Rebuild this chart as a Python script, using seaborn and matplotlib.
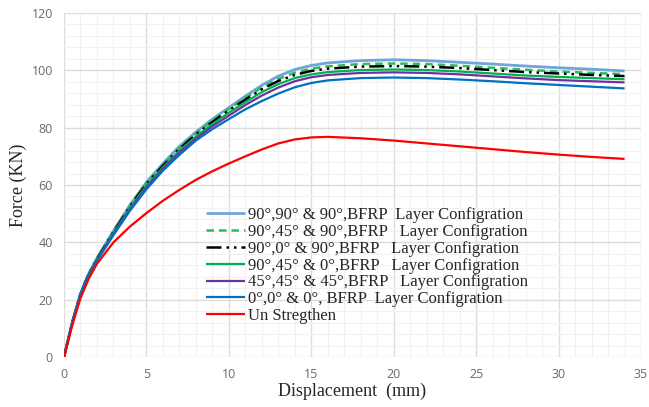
import numpy as np
import pandas as pd
import seaborn as sns
import matplotlib.pyplot as plt
from matplotlib.ticker import MultipleLocator

# displacement (mm)
disp = [0, 0.5, 1, 1.5, 2, 3, 4, 5, 6, 7, 8, 9, 10, 11, 12, 13, 14, 15, 16,
        18, 20, 22, 24, 26, 28, 30, 32, 34]

# force (KN) per configuration
f_90_90_90 = [0, 12, 22, 29, 34.5, 44, 53, 61, 67.5, 73.5, 78.5, 83, 87, 91, 94.8,
              98.0, 100.3, 101.7, 102.6, 103.4, 103.7, 103.4, 102.8, 102.2, 101.5,
              100.9, 100.4, 99.8]
f_90_45_90 = [0, 12, 22, 29, 34.3, 43.8, 52.8, 60.7, 67, 73, 78, 82.5, 86.5, 90.4,
              94.0, 97.0, 99.2, 100.6, 101.4, 102.2, 102.4, 102.2, 101.6, 100.9,
              100.2, 99.6, 99.1, 98.7]
f_90_0_90 = [0, 12, 22, 29, 34.2, 43.6, 52.5, 60.4, 66.7, 72.6, 77.6, 82, 86, 89.8,
             93.4, 96.3, 98.4, 99.8, 100.6, 101.3, 101.5, 101.3, 100.8, 100.1, 99.4,
             98.9, 98.4, 98.0]
f_90_45_0 = [0, 12, 22, 29, 34, 43.3, 52, 59.8, 66.1, 72, 76.9, 81.3, 85.2, 88.9,
             92.4, 95.2, 97.3, 98.6, 99.4, 100.1, 100.3, 100.1, 99.6, 98.9, 98.2,
             97.7, 97.3, 96.9]
f_45_45_45 = [0, 12, 22, 28.8, 33.8, 43, 51.5, 59.2, 65.6, 71.3, 76.2, 80.5, 84.2,
              87.9, 91.2, 94.0, 96.2, 97.6, 98.4, 99.1, 99.3, 99.1, 98.6, 97.9, 97.2,
              96.6, 96.2, 95.8]
f_0_0_0 = [0, 12, 22, 28.5, 33.5, 42.5, 51, 58.5, 65, 70.5, 75.5, 79.5, 83, 86.4,
           89.3, 91.9, 94.1, 95.6, 96.5, 97.3, 97.5, 97.3, 96.8, 96.2, 95.5, 94.9,
           94.3, 93.7]
f_unstrengthened = [0, 11, 20.5, 27.3, 32.5, 40, 45.5, 50.2, 54.5, 58.3, 61.8, 64.8,
                    67.5, 70, 72.4, 74.5, 75.9, 76.6, 76.8, 76.3, 75.5, 74.5, 73.5,
                    72.5, 71.5, 70.6, 69.8, 69.1]

labels = [
    "90°,90° & 90°,BFRP  Layer Configration",
    "90°,45° & 90°,BFRP   Layer Configration",
    "90°,0° & 90°,BFRP   Layer Configration",
    "90°,45° & 0°,BFRP   Layer Configration",
    "45°,45° & 45°,BFRP   Layer Configration",
    "0°,0° & 0°, BFRP  Layer Configration",
    "Un Stregthen",
]
series = [f_90_90_90, f_90_45_90, f_90_0_90, f_90_45_0, f_45_45_45, f_0_0_0,
          f_unstrengthened]
colors = ["#6ea6dc", "#2dbb5d", "#000000", "#00b050", "#7030a0", "#0070c0", "#ff0000"]
styles = [(0, ()), (0, (3, 2)), (0, (6, 2, 1, 2, 1, 2)), (0, ()), (0, ()), (0, ()), (0, ())]
widths = [2.0, 1.8, 1.8, 1.6, 1.6, 1.6, 1.6]

sns.set_style("white")
plt.rcParams['font.family'] = ['Liberation Serif', 'DejaVu Serif']

fig = plt.figure(figsize=(6.49, 4.07), dpi=100)
ax = fig.add_axes([0.0986, 0.1229, 0.8891, 0.8451])

for lab, vals, c, ls, lw in zip(labels, series, colors, styles, widths):
    df = pd.DataFrame({"disp": disp, "force": vals})
    sns.lineplot(data=df, x="disp", y="force", ax=ax, color=c, linestyle=ls,
                 linewidth=lw, label=lab, zorder=3)

ax.set_xlim(0, 35)
ax.set_ylim(0, 120)
ax.xaxis.set_major_locator(MultipleLocator(5))
ax.yaxis.set_major_locator(MultipleLocator(20))
ax.xaxis.set_minor_locator(MultipleLocator(1))
ax.yaxis.set_minor_locator(MultipleLocator(4))
ax.grid(which="major", color="#dcdcdc", linewidth=1.0, zorder=0)
ax.grid(which="minor", color="#f1f1f1", linewidth=0.8, zorder=0)
ax.set_axisbelow(True)
for s in ax.spines.values():
    s.set_visible(False)
ax.tick_params(which="both", length=0, labelsize=9, labelcolor="#6a6a6a", pad=8)
for t in ax.get_xticklabels() + ax.get_yticklabels():
    t.set_family(['Open Sans', 'DejaVu Sans'])

ax.set_xlabel("Displacement  (mm)", fontsize=13, labelpad=1)
ax.set_ylabel("Force (KN)", fontsize=13, labelpad=3)

leg = ax.legend(loc="upper left", bbox_to_anchor=(0.235, 0.455), frameon=False,
                fontsize=12, handlelength=2.3, handletextpad=0.2, labelspacing=0.05,
                borderaxespad=0)

fig.savefig("out.png", dpi=100)
